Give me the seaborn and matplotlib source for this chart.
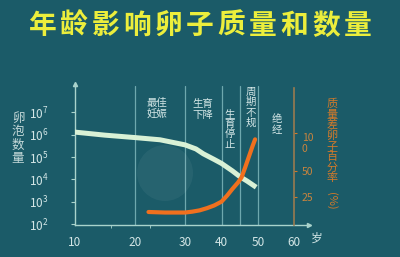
import numpy as np
import pandas as pd
import matplotlib
matplotlib.use("Agg")
import matplotlib.pyplot as plt
import seaborn as sns
from matplotlib.patches import Ellipse
from matplotlib.ticker import FixedLocator, FixedFormatter, NullFormatter

# ---- data ----
title = "年龄影响卵子质量和数量"
age_ticks = [10, 20, 30, 40, 50, 60]
stage_lines = [20, 30, 40, 45, 50]

follicle_age = [10, 15, 20, 25, 30, 33, 35, 38, 40, 43, 45, 47, 49.5]
follicle_count = [1.3e6, 9.5e5, 7.4e5, 5.9e5, 3.5e5, 2.3e5, 1.4e5, 7.8e4,
                  5.2e4, 2.4e4, 1.35e4, 8.5e3, 4.5e3]

poor_age = [22.7, 26, 30, 32, 34, 36, 38, 40, 41.5, 43, 44.5, 45.5, 46.5,
            47.5, 48.5, 49.2]
poor_pct = [11.5, 11, 11, 11.8, 13, 15, 17.5, 21, 26.5, 33, 39, 44, 55,
            69, 83, 92]

right_ticks = [25, 50, 100]
right_ticklabels = ["25", "50", "10\n0"]

# ---- style ----
sns.set_style("ticks")
plt.rcParams["font.family"] = ["Noto Sans CJK SC", "DejaVu Sans"]
plt.rcParams["mathtext.fontset"] = "dejavusans"

BG = "#1b5b68"
AXIS_LIGHT = "#a9d3cc"
TEXT_LIGHT = "#d3e6e6"
GRID_LINE = "#6ea8ae"
CURVE_LIGHT = "#d9f1d6"
CURVE_ORANGE = "#f0701e"
LABEL_ORANGE = "#d27a2a"
SPINE_BROWN = "#9a7b4f"

W, H = 400, 257
fig = plt.figure(figsize=(W / 100, H / 100), dpi=100)
fig.patch.set_facecolor(BG)


def fxy(px, py):
    return px / W, 1 - py / H


# age axis is stretched for the younger decades
age_knots = [10, 20, 30, 40, 50, 60, 70]
age_span = [0, 60.3, 110.3, 146.8, 183.3, 219.3, 255.3]
fwd_age = lambda a: np.interp(a, age_knots, age_span)
inv_age = lambda s: np.interp(s, age_span, age_knots)

# percent axis (right) is compressed above 50
pct_knots = [0, 25, 50, 100, 200]
pct_span = [0, 27.2, 53.5, 91.2, 166.6]
fwd_pct = lambda v: np.interp(v, pct_knots, pct_span)
inv_pct = lambda s: np.interp(s, pct_span, pct_knots)

ax = fig.add_axes([74.7 / W, (H - 224.5) / H, 234 / W, 140.5 / H])
ax.set_facecolor("none")
ax.set_xscale("function", functions=(fwd_age, inv_age))
ax.set_yscale("log")

# watermark disc
fig.patches.append(Ellipse(fxy(165, 173), 56 / W, 56 / H,
                           transform=fig.transFigure,
                           facecolor="#ffffff", alpha=0.05, edgecolor="none"))

for a in stage_lines:
    ax.axvline(a, ymax=0.986, color=GRID_LINE, lw=0.9, zorder=1)

sns.lineplot(x=follicle_age, y=follicle_count, ax=ax, color=CURVE_LIGHT,
             lw=3.6, zorder=3, solid_capstyle="butt")

ax.set_xlim(10, 64.08)
ax.set_ylim(10 ** 1.99, 10 ** 8.26)

ax.xaxis.set_major_locator(FixedLocator(age_ticks))
ax.xaxis.set_major_formatter(FixedFormatter([str(a) for a in age_ticks]))
ax.xaxis.set_minor_locator(FixedLocator([16, 23]))
ax.xaxis.set_minor_formatter(NullFormatter())
ax.tick_params(axis="x", which="major", length=0, pad=8, labelsize=8.5,
               labelcolor=TEXT_LIGHT)
ax.tick_params(axis="x", which="minor", length=2, color=AXIS_LIGHT)

ax.yaxis.set_major_locator(FixedLocator([1e2, 1e3, 1e4, 1e5, 1e6, 1e7]))
ax.yaxis.set_minor_locator(FixedLocator([]))
ax.tick_params(axis="y", which="major", length=3, width=0.8,
               color=AXIS_LIGHT, pad=16, labelsize=8.5, labelcolor=TEXT_LIGHT)

for side in ["top", "right"]:
    ax.spines[side].set_visible(False)
for side in ["left", "bottom"]:
    ax.spines[side].set_color(AXIS_LIGHT)
    ax.spines[side].set_linewidth(1.0)

# axis arrow heads
ax.plot([0], [1], marker="^", ms=3, color=AXIS_LIGHT, transform=ax.transAxes,
        clip_on=False)
ax.plot([1], [0], marker=">", ms=3, color=AXIS_LIGHT, transform=ax.transAxes,
        clip_on=False)
ax.set_xlabel("")
ax.set_ylabel("")

# ---- right axis: share of poor-quality eggs ----
ax2 = ax.twinx()
ax2.set_facecolor("none")
ax2.set_yscale("function", functions=(fwd_pct, inv_pct))
sns.lineplot(x=poor_age, y=poor_pct, ax=ax2, color=CURVE_ORANGE, lw=3.0,
             zorder=4, solid_capstyle="round")
ax2.set_xlim(10, 64.08)
ax2.set_ylim(0, 165.4)
for side in ["top", "left", "bottom"]:
    ax2.spines[side].set_visible(False)
ax2.spines["right"].set_position(("data", 60))
ax2.spines["right"].set_bounds(0, 159.7)
ax2.spines["right"].set_color(SPINE_BROWN)
ax2.spines["right"].set_linewidth(1.2)
ax2.yaxis.set_major_locator(FixedLocator(right_ticks))
ax2.yaxis.set_major_formatter(FixedFormatter(right_ticklabels))
ax2.yaxis.set_minor_locator(FixedLocator([]))
ax2.tick_params(axis="y", length=2.5, width=0.8, color=LABEL_ORANGE, pad=3,
                labelsize=7.5, labelcolor="#c8843e")
for lbl in ax2.get_yticklabels():
    if "\n" in lbl.get_text():
        lbl.set_verticalalignment("top")
        lbl.set_linespacing(1.1)
ax2.set_ylabel("")

# ---- texts ----
for i, ch in enumerate(title):
    fig.text(*fxy(26.7 + 15.75 + 31.5 * i, 25.5), ch, ha="center",
             va="center", fontsize=20, fontweight="bold", color="#ecee3c")

fig.text(*fxy(18, 138.5), "\n".join("卵泡数量"), ha="center", va="center",
         fontsize=9, linespacing=1.05, color="#c5d9d9")

fig.text(*fxy(331.7, 141), "\n".join("质量差卵子百分率"), ha="center",
         va="center", fontsize=8, linespacing=1.04, color=LABEL_ORANGE)
fig.text(*fxy(331.7, 201), "(%)", ha="center", va="center", fontsize=8,
         rotation=-90, color=LABEL_ORANGE)

fig.text(*fxy(316.7, 238), "岁", ha="center", va="center", fontsize=8.5,
         color=TEXT_LIGHT)

stage_texts = [
    ("最佳\n妊娠", 156.7, 108),
    ("生育\n下降", 202.7, 109.5),
    ("\n".join("生育停止"), 230, 129.5),
    ("\n".join("周期不规"), 250.7, 107.5),
    ("\n".join("绝经"), 276.7, 124.5),
]
for txt, px, py in stage_texts:
    fig.text(*fxy(px, py), txt, ha="center", va="center", fontsize=7.5,
             linespacing=1.05, color=TEXT_LIGHT)

fig.savefig("out.png", dpi=100, facecolor=BG)
